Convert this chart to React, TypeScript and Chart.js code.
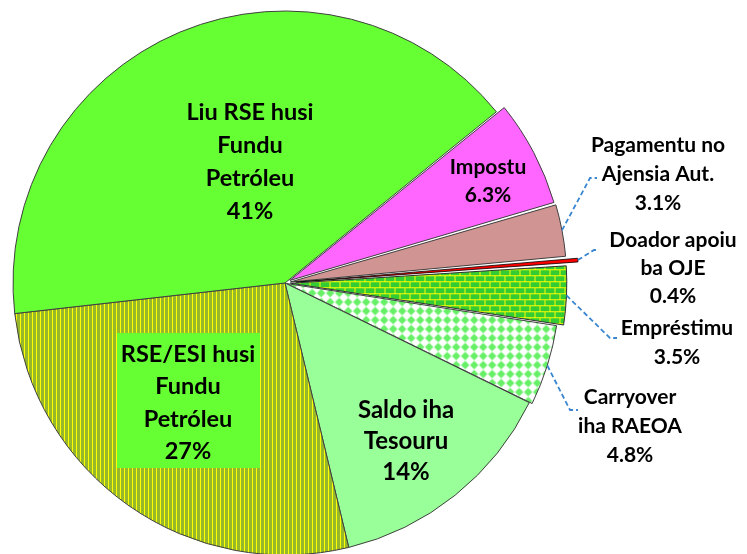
import React, { useEffect, useRef } from 'react';
import { Chart, registerables } from 'chart.js';

Chart.register(...registerables);

const sliceNames = [
  'Impostu',
  'Pagamentu no Ajensia Aut.',
  'Doador apoiu ba OJE',
  'Empréstimu',
  'Carryover iha RAEOA',
  'Saldo iha Tesouru',
  'RSE/ESI husi Fundu Petróleu',
  'Liu RSE husi Fundu Petróleu',
];
const sliceValues = [6.3, 3.1, 0.4, 3.5, 4.8, 14, 27, 41];
const sliceLabelLines = [
  ['Impostu', '6.3%'],
  ['Pagamentu no', 'Ajensia Aut.', '3.1%'],
  ['Doador apoiu', 'ba OJE', '0.4%'],
  ['Empréstimu', '3.5%'],
  ['Carryover', 'iha RAEOA', '4.8%'],
  ['Saldo iha', 'Tesouru', '14%'],
  ['RSE/ESI husi', 'Fundu', 'Petróleu', '27%'],
  ['Liu RSE husi', 'Fundu', 'Petróleu', '41%'],
];

function makeTile(w: number, h: number, draw: (c: CanvasRenderingContext2D) => void) {
  const cv = document.createElement('canvas');
  cv.width = w;
  cv.height = h;
  const c = cv.getContext('2d') as CanvasRenderingContext2D;
  draw(c);
  const p = document.createElement('canvas').getContext('2d') as CanvasRenderingContext2D;
  return p.createPattern(cv, 'repeat') as CanvasPattern;
}

function brickPattern() {
  return makeTile(10, 12, (c) => {
    c.fillStyle = '#FFFF00';
    c.fillRect(0, 0, 10, 12);
    c.fillStyle = '#33CC33';
    c.fillRect(0, 0, 9, 5);
    c.fillRect(0, 6, 4, 5);
    c.fillRect(5, 6, 5, 5);
  });
}

function diamondPattern() {
  return makeTile(9, 9, (c) => {
    c.fillStyle = '#FFFFFF';
    c.fillRect(0, 0, 9, 9);
    c.fillStyle = '#66F066';
    c.beginPath();
    c.moveTo(4.5, 0.3);
    c.lineTo(8.7, 4.5);
    c.lineTo(4.5, 8.7);
    c.lineTo(0.3, 4.5);
    c.closePath();
    c.fill();
  });
}

function stripePattern() {
  return makeTile(4, 4, (c) => {
    c.fillStyle = '#96B82A';
    c.fillRect(0, 0, 4, 4);
    c.fillStyle = '#FFFF00';
    c.fillRect(0, 0, 1, 4);
  });
}

export default function App() {
  const ref = useRef<HTMLCanvasElement | null>(null);

  useEffect(() => {
    if (!ref.current) return;
    const offsets = [22, 22, 44, 22, 7, 0, 0, 0];
    const colors: any[] = [
      '#FF66FF',
      '#D09593',
      '#FF0000',
      brickPattern(),
      diamondPattern(),
      '#99FF99',
      stripePattern(),
      '#66FF33',
    ];
    const borders = ['#404040', '#404040', '#000000', '#303030', '#404040', '#404040', '#404040', '#404040'];
    const borderWidths = [1, 1, 0.8, 1, 1, 1, 1, 1];

    const labelPos = [
      { x: 488, y: 167, lh: 28, fs: 21 },
      { x: 658, y: 145, lh: 29, fs: 21 },
      { x: 673, y: 240, lh: 28, fs: 21 },
      { x: 677, y: 328, lh: 29, fs: 21 },
      { x: 630, y: 397, lh: 29, fs: 21 },
      { x: 406, y: 410, lh: 31, fs: 24 },
      { x: 188, y: 354, lh: 32.5, fs: 23.5 },
      { x: 250, y: 112, lh: 33.3, fs: 23.5 },
    ];
    const leaders: Record<number, number[][]> = {
      1: [[590, 178], [597, 178]],
      2: [[594, 250], [599, 250]],
      3: [[610, 338], [617, 338]],
      4: [[570, 410], [578, 410]],
    };

    const labelPlugin = {
      id: 'sliceLabels',
      afterDatasetsDraw(chart: any) {
        const ctx = chart.ctx as CanvasRenderingContext2D;
        const meta = chart.getDatasetMeta(0);
        ctx.save();
        // box behind RSE/ESI label
        ctx.fillStyle = '#66FF33';
        ctx.fillRect(117, 333, 143, 135);
        // leader lines
        ctx.strokeStyle = '#3A86D0';
        ctx.lineWidth = 1.8;
        ctx.setLineDash([5, 3]);
        Object.keys(leaders).forEach((k) => {
          const i = Number(k);
          const arc = meta.data[i];
          const mid = (arc.startAngle + arc.endAngle) / 2;
          const o = offsets[i] / 4;
          const circ = arc.endAngle - arc.startAngle;
          const fix = 1 - Math.sin(Math.min(Math.PI, circ));
          const r = arc.outerRadius + o * fix + o;
          ctx.beginPath();
          ctx.moveTo(arc.x + Math.cos(mid) * r, arc.y + Math.sin(mid) * r);
          leaders[i].forEach((p) => ctx.lineTo(p[0], p[1]));
          ctx.stroke();
        });
        ctx.setLineDash([]);
        // texts
        ctx.fillStyle = '#000000';
        ctx.textAlign = 'center';
        ctx.textBaseline = 'middle';
        sliceLabelLines.forEach((lines, i) => {
          const p = labelPos[i];
          ctx.font = `bold ${p.fs}px Lato`;
          lines.forEach((t, j) => ctx.fillText(t, p.x, p.y + j * p.lh));
        });
        ctx.restore();
      },
    };

    const chart = new Chart(ref.current, {
      type: 'pie',
      data: {
        labels: sliceNames,
        datasets: [
          {
            data: sliceValues,
            backgroundColor: colors,
            borderColor: borders,
            borderWidth: borderWidths,
            offset: offsets,
            clip: false as any,
          } as any,
        ],
      },
      options: {
        responsive: false,
        animation: false,
        rotation: 51,
        radius: 272,
        layout: { padding: { left: 0, right: 177, top: 12, bottom: 0 } },
        plugins: {
          legend: { display: false },
          tooltip: { enabled: false },
        },
      } as any,
      plugins: [labelPlugin],
    });
    return () => chart.destroy();
  }, []);

  return (
    <div style={{ position: 'absolute', left: 0, top: 0, width: 747, height: 554, background: '#fff' }}>
      <canvas ref={ref} width={747} height={554} style={{ display: 'block' }} />
    </div>
  );
}
